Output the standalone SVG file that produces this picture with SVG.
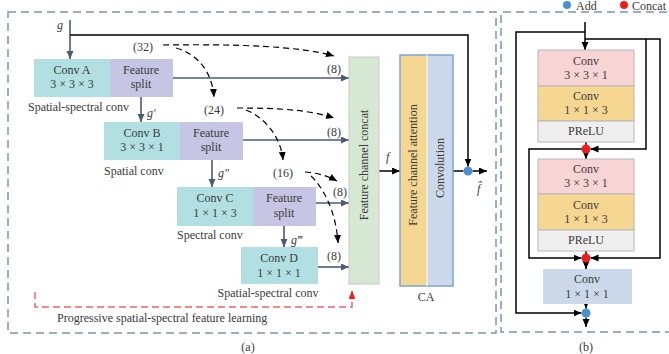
<svg xmlns="http://www.w3.org/2000/svg" width="669" height="354" viewBox="0 0 669 354">
  <style>
    .t { font-family: "Liberation Serif", "Times New Roman", serif; font-size: 12px; fill: #3a3a3a; }
    .m { text-anchor: middle; }
    .it { font-style: italic; }
    .panel { fill: none; stroke: #7895b2; stroke-width: 1.5; stroke-dasharray: 8 5; }
    .sl { fill: none; stroke: #4a5a78; stroke-width: 1.6; marker-end: url(#arrS); }
    .bk { fill: none; stroke: #000; stroke-width: 1.5; }
    .bka { fill: none; stroke: #000; stroke-width: 1.5; marker-end: url(#arrK); }
    .dsh { fill: none; stroke: #000; stroke-width: 1.2; stroke-dasharray: 6 4; marker-end: url(#arrK); }
    .red { fill: none; stroke: #f06464; stroke-width: 1.5; stroke-dasharray: 7 4; }
    .cyan { fill: #b2e0e2; }
    .lav { fill: #c6c6e4; }
    .pink { fill: #f9d4d4; stroke: #b8b8b8; stroke-width: 1; }
    .yel { fill: #f5d792; stroke: #b8b8b8; stroke-width: 1; }
    .gry { fill: #efefef; stroke: #b8b8b8; stroke-width: 1; }
    .blu { fill: #ccd9ea; }
  </style>
  <defs>
    <marker id="arrS" markerUnits="userSpaceOnUse" markerWidth="9" markerHeight="8" refX="8" refY="3.5" orient="auto">
      <path d="M0,0 L8,3.5 L0,7 z" fill="#4a5a78"/>
    </marker>
    <marker id="arrK" markerUnits="userSpaceOnUse" markerWidth="9" markerHeight="8" refX="8" refY="3.5" orient="auto">
      <path d="M0,0 L8,3.5 L0,7 z" fill="#000"/>
    </marker>
    <marker id="arrR" markerUnits="userSpaceOnUse" markerWidth="9" markerHeight="8" refX="8" refY="3.5" orient="auto">
      <path d="M0,0 L8,3.5 L0,7 z" fill="#f02020"/>
    </marker>
  </defs>

  <rect width="669" height="354" fill="#fff"/>

  <!-- panel frames -->
  <rect class="panel" x="8" y="12" width="488" height="321"/>
  <path class="panel" d="M680,12 H501 V332 H680"/>

  <!-- legend -->
  <g id="legend">
    <circle cx="567" cy="5" r="4" fill="#4a8fd0"/>
    <text class="t" x="576" y="9.6" font-size="10.5">Add</text>
    <circle cx="624" cy="5" r="4" fill="#ea2020"/>
    <text class="t" x="632" y="9.6" font-size="10.5">Concat</text>
  </g>

  <!-- connectors -->
  <g id="connectors">
    <path class="sl" d="M70,20 V59"/>
    <path class="sl" d="M141,97 V122"/>
    <path class="sl" d="M212,160 V187"/>
    <path class="sl" d="M284,226 V247"/>
    <path class="sl" d="M173,78 H349"/>
    <path class="sl" d="M243,140 H349"/>
    <path class="sl" d="M316,203 H349"/>
    <path class="sl" d="M318,267 H349"/>

    <path class="bka" d="M70,35 H468 V166.5"/>
    <path class="bka" d="M379,171 H400"/>
    <path class="bk" d="M453,171 H463.5"/>
    <path class="bka" d="M472.5,171 H487"/>

    <path class="dsh" d="M163,45 C235,44 300,46 334,56"/>
    <path class="dsh" d="M176,48 C198,54 212,72 214,97"/>
    <path class="dsh" d="M237,108 C280,108 310,110 334,118"/>
    <path class="dsh" d="M246,110 C266,118 281,138 283,160"/>
    <path class="dsh" d="M305,172 C318,173 328,176 337,181"/>
    <path class="dsh" d="M311,176 C322,186 336,210 338,243"/>

    <path class="red" d="M35,292 V307 H352 V296"/>
    <path d="M352,298 V291" stroke="#f02020" stroke-width="1.5" marker-end="url(#arrR)"/>

    <!-- panel (b) wiring -->
    <path class="bka" d="M585,22 V50"/>
    <path class="bka" d="M585,32 H516 V313 H581.5"/>
    <path class="bka" d="M585,39 H660 V258 H590.5"/>
    <path class="bka" d="M646,39 V149 H590.5"/>
    <path class="bk" d="M586,142 V149"/>
    <path class="bka" d="M586,153.5 V159"/>
    <path class="bka" d="M586,149 H529 V258 H581.5"/>
    <path class="bk" d="M586,251 V258"/>
    <path class="bka" d="M586,262.5 V269"/>
    <path class="bka" d="M586,304 V308.5"/>
    <path class="bka" d="M586,317.5 V327"/>
  </g>

  <!-- operators -->
  <g id="add-a"><circle cx="468" cy="171" r="4.5" fill="#4a8fd0"/></g>
  <g id="concat-1"><circle cx="586" cy="149" r="4.5" fill="#ea2020"/></g>
  <g id="concat-2"><circle cx="586" cy="258" r="4.5" fill="#ea2020"/></g>
  <g id="add-b"><circle cx="586" cy="313" r="4.5" fill="#4a8fd0"/></g>

  <!-- labels on wires -->
  <text class="t it" x="57" y="29">g</text>
  <text class="t it" x="147" y="117">g′</text>
  <text class="t it" x="218" y="177">g″</text>
  <text class="t it" x="291" y="244">g‴</text>
  <text class="t it" x="386" y="161">f</text>
  <text class="t it" x="477" y="193">f̂</text>
  <text class="t m" x="143" y="51">(32)</text>
  <text class="t m" x="214" y="114">(24)</text>
  <text class="t m" x="283" y="177">(16)</text>
  <text class="t m" x="334" y="73">(8)</text>
  <text class="t m" x="334" y="136">(8)</text>
  <text class="t m" x="340" y="196">(8)</text>
  <text class="t m" x="334" y="260">(8)</text>

  <!-- stage A -->
  <g id="convA">
    <rect class="cyan" x="34" y="59" width="76" height="38"/>
    <text class="t m" x="72" y="74">Conv A</text>
    <text class="t m" x="72" y="88">3 × 3 × 3</text>
    <text class="t" x="28" y="111">Spatial-spectral conv</text>
  </g>
  <g id="splitA">
    <rect class="lav" x="110" y="59" width="63" height="38"/>
    <text class="t m" x="141" y="74">Feature</text>
    <text class="t m" x="141" y="88">split</text>
  </g>
  <!-- stage B -->
  <g id="convB">
    <rect class="cyan" x="104" y="122" width="76" height="38"/>
    <text class="t m" x="142" y="137">Conv B</text>
    <text class="t m" x="142" y="151">3 × 3 × 1</text>
    <text class="t" x="104" y="175">Spatial conv</text>
  </g>
  <g id="splitB">
    <rect class="lav" x="180" y="122" width="63" height="38"/>
    <text class="t m" x="211" y="137">Feature</text>
    <text class="t m" x="211" y="151">split</text>
  </g>
  <!-- stage C -->
  <g id="convC">
    <rect class="cyan" x="177" y="187" width="76" height="39"/>
    <text class="t m" x="215" y="202">Conv C</text>
    <text class="t m" x="215" y="217">1 × 1 × 3</text>
    <text class="t" x="177" y="239">Spectral conv</text>
  </g>
  <g id="splitC">
    <rect class="lav" x="253" y="187" width="63" height="39"/>
    <text class="t m" x="284" y="202">Feature</text>
    <text class="t m" x="284" y="217">split</text>
  </g>
  <!-- stage D -->
  <g id="convD">
    <rect class="cyan" x="241" y="247" width="77" height="37"/>
    <text class="t m" x="279" y="262">Conv D</text>
    <text class="t m" x="279" y="277">1 × 1 × 1</text>
    <text class="t m" x="268" y="297">Spatial-spectral conv</text>
  </g>

  <!-- concat -->
  <g id="concat">
    <rect x="349" y="57" width="30" height="227" fill="#d6e8d4" stroke="#c8c8c8" stroke-width="1"/>
    <text class="t m" transform="translate(368,165) rotate(-90)">Feature channel concat</text>
  </g>

  <!-- channel attention -->
  <g id="CA">
    <rect x="400" y="55" width="27" height="231" fill="#f5d792"/>
    <rect x="427" y="55" width="26" height="231" fill="#ccd9ea"/>
    <rect x="400" y="55" width="53" height="231" fill="none" stroke="#7aa6d6" stroke-width="1.5"/>
    <line x1="427" y1="55" x2="427" y2="286" stroke="#fff" stroke-width="1"/>
    <text class="t m" transform="translate(417,165) rotate(-90)">Feature channel attention</text>
    <text class="t m" transform="translate(444,168) rotate(-90)">Convolution</text>
    <text class="t m" x="426" y="301">CA</text>
  </g>

  <text class="t" x="57" y="322">Progressive spatial-spectral feature learning</text>
  <text class="t m" x="248" y="351">(a)</text>

  <!-- panel (b) blocks -->
  <g id="block1">
    <rect class="pink" x="538" y="50" width="96" height="36"/>
    <text class="t m" x="586" y="65">Conv</text>
    <text class="t m" x="586" y="79">3 × 3 × 1</text>
    <rect class="yel" x="538" y="86" width="96" height="35"/>
    <text class="t m" x="586" y="100">Conv</text>
    <text class="t m" x="586" y="114">1 × 1 × 3</text>
    <rect class="gry" x="538" y="121" width="96" height="21"/>
    <text class="t m" x="586" y="135">PReLU</text>
  </g>
  <g id="block2">
    <rect class="pink" x="538" y="159" width="96" height="35"/>
    <text class="t m" x="586" y="173">Conv</text>
    <text class="t m" x="586" y="187">3 × 3 × 1</text>
    <rect class="yel" x="538" y="194" width="96" height="36"/>
    <text class="t m" x="586" y="209">Conv</text>
    <text class="t m" x="586" y="223">1 × 1 × 3</text>
    <rect class="gry" x="538" y="230" width="96" height="21"/>
    <text class="t m" x="586" y="244">PReLU</text>
  </g>
  <g id="conv111">
    <rect class="blu" x="543" y="269" width="89" height="35"/>
    <text class="t m" x="587" y="283">Conv</text>
    <text class="t m" x="587" y="298">1 × 1 × 1</text>
  </g>
  <text class="t m" x="586" y="351">(b)</text>
</svg>
